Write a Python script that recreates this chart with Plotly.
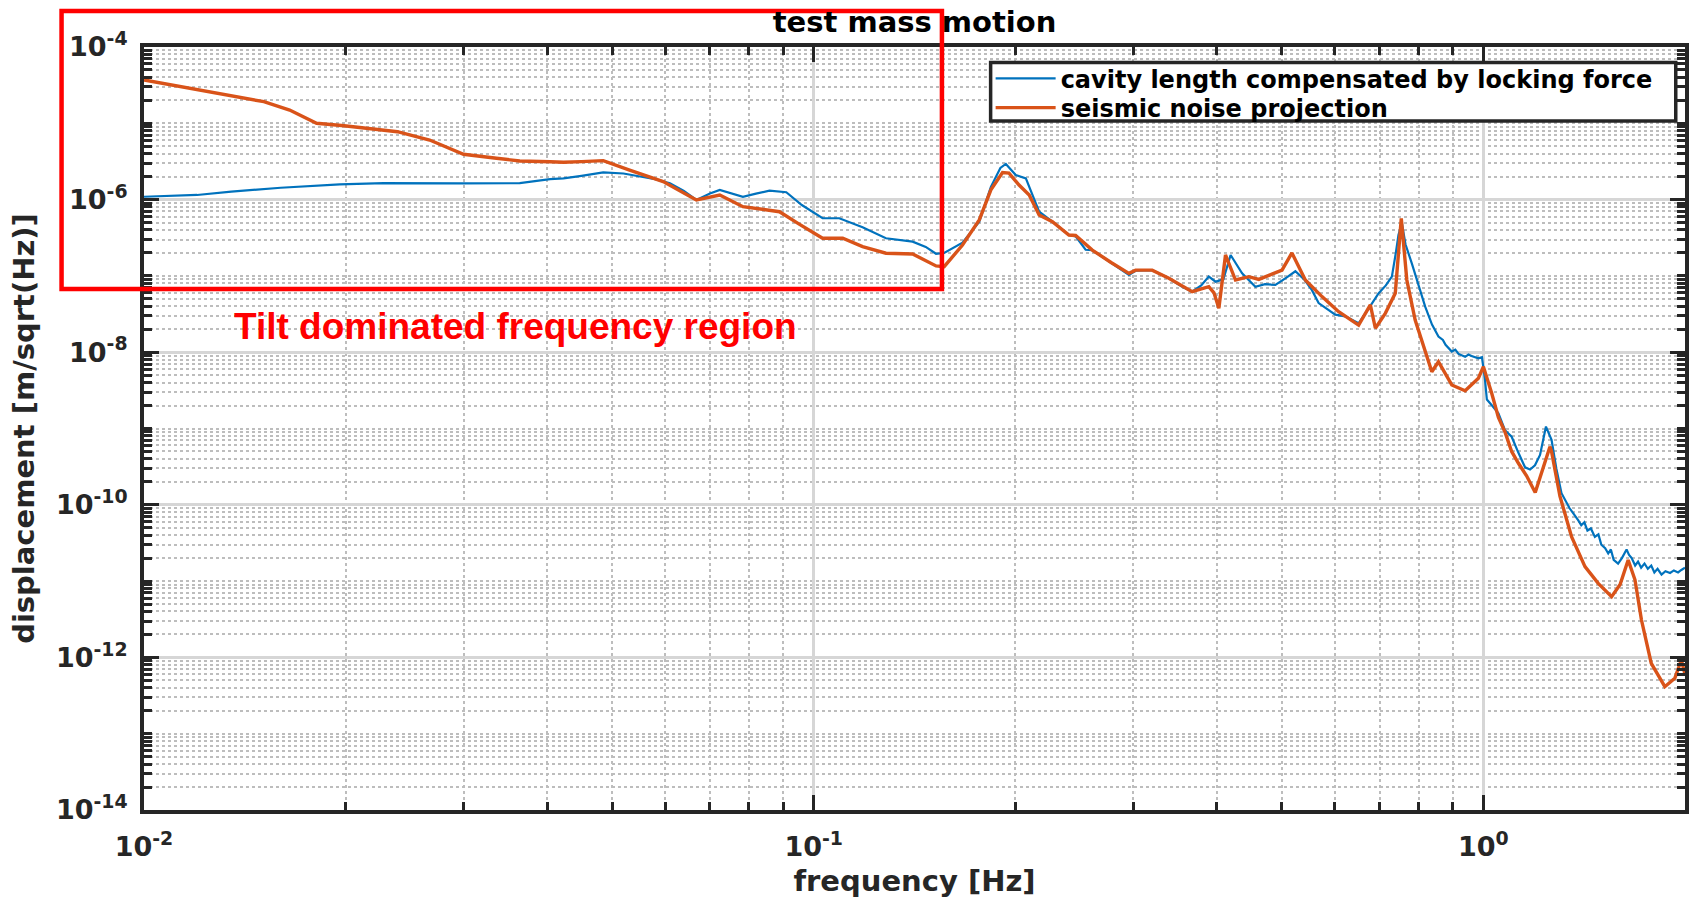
import plotly.graph_objects as go

# Spectra of test mass motion (amplitude spectral densities)
freq_cavity = [
    0.0100, 0.0120, 0.0135, 0.0160, 0.0196, 0.0228, 0.0300, 0.0364, 0.0404, 0.0423,
    0.0450, 0.0485, 0.0520, 0.0544, 0.0580, 0.0610, 0.0640, 0.0668, 0.0700, 0.0724,
    0.0784, 0.0820, 0.0859, 0.0910, 0.0960, 0.1031, 0.1092, 0.1183, 0.1282, 0.1405,
    0.1470, 0.1523, 0.1566, 0.1668, 0.1767, 0.1839, 0.1900, 0.1936, 0.2003, 0.2074,
    0.2120, 0.2171, 0.2272, 0.2405, 0.2461, 0.2547, 0.2606, 0.2780, 0.2956, 0.3025,
    0.3202, 0.3391, 0.3551, 0.3674, 0.3790, 0.3890, 0.3982, 0.4090, 0.4193, 0.4362,
    0.4566, 0.4720, 0.4891, 0.5080, 0.5239, 0.5400, 0.5546, 0.5675, 0.5850, 0.6009,
    0.6220, 0.6512, 0.6750, 0.6972, 0.7150, 0.7300, 0.7400, 0.7467, 0.7556, 0.7650,
    0.7818, 0.8000, 0.8186, 0.8380, 0.8568, 0.8700, 0.8780, 0.8970, 0.9080, 0.9180,
    0.9391, 0.9500, 0.9600, 0.9830, 0.9950, 1.0050, 1.0120, 1.0300, 1.0530, 1.0770,
    1.1020, 1.1280, 1.1540, 1.1740, 1.1940, 1.2150, 1.2400, 1.2640, 1.2850, 1.3080,
    1.3450, 1.3850, 1.4000, 1.4150, 1.4300, 1.4470, 1.4670, 1.4850, 1.5000, 1.5200,
    1.5360, 1.5500, 1.5650, 1.5890, 1.6100, 1.6360, 1.6500, 1.6650, 1.6850, 1.7020,
    1.7200, 1.7400, 1.7600, 1.7810, 1.8000, 1.8200, 1.8450, 1.8700, 1.9000, 1.9250,
    1.9530, 1.9750, 2.0000,
]
disp_cavity = [
    1.09e-6, 1.15e-6, 1.27e-6, 1.43e-6, 1.58e-6, 1.64e-6, 1.63e-6, 1.64e-6, 1.85e-6, 1.90e-6,
    2.05e-6, 2.28e-6, 2.20e-6, 2.06e-6, 1.85e-6, 1.64e-6, 1.30e-6, 9.9e-7, 1.20e-6, 1.34e-6,
    1.09e-6, 1.20e-6, 1.31e-6, 1.25e-6, 8.5e-7, 5.7e-7, 5.7e-7, 4.33e-7, 3.11e-7, 2.81e-7,
    2.4e-7, 1.95e-7, 2.0e-7, 2.72e-7, 5.13e-7, 1.47e-6, 2.6e-6, 2.93e-6, 2.10e-6, 1.90e-6,
    1.2e-6, 6.94e-7, 5.13e-7, 3.43e-7, 3.3e-7, 2.2e-7, 2.18e-7, 1.5e-7, 1.03e-7, 1.17e-7,
    1.19e-7, 9.3e-8, 7.2e-8, 6.2e-8, 7.5e-8, 9.8e-8, 8.4e-8, 9.0e-8, 1.88e-7, 1.08e-7,
    7.2e-8, 7.8e-8, 7.6e-8, 9.5e-8, 1.15e-7, 9.0e-8, 6.5e-8, 4.4e-8, 3.6e-8, 3.1e-8,
    2.95e-8, 2.39e-8, 3.8e-8, 5.9e-8, 7.5e-8, 9.8e-8, 2.0e-7, 3.43e-7, 4.89e-7, 2.6e-7,
    1.46e-7, 7.5e-8, 3.95e-8, 2.3e-8, 1.6e-8, 1.45e-8, 1.25e-8, 1.02e-8, 1.08e-8, 9.5e-9,
    8.7e-9, 9.3e-9, 8.9e-9, 8.3e-9, 8.6e-9, 4.5e-9, 2.4e-9, 2.0e-9, 1.58e-9, 9.5e-10,
    7.8e-10, 4.8e-10, 3.1e-10, 2.9e-10, 3.3e-10, 4.5e-10, 1.06e-9, 7.1e-10, 3.0e-10, 1.42e-10,
    9.0e-11, 6.3e-11, 5.4e-11, 5.9e-11, 4.6e-11, 4.9e-11, 3.8e-11, 4.1e-11, 3.0e-11, 2.7e-11,
    2.3e-11, 2.6e-11, 1.9e-11, 1.7e-11, 2.0e-11, 2.6e-11, 2.2e-11, 2.0e-11, 1.6e-11, 1.8e-11,
    1.5e-11, 1.7e-11, 1.45e-11, 1.6e-11, 1.3e-11, 1.45e-11, 1.22e-11, 1.35e-11, 1.28e-11, 1.38e-11,
    1.3e-11, 1.4e-11, 1.5e-11,
]

freq_seismic = [
    0.0100, 0.0120, 0.0151, 0.0165, 0.0173, 0.0181, 0.0199, 0.0239, 0.0267, 0.0286,
    0.0300, 0.0336, 0.0364, 0.0404, 0.0423, 0.0450, 0.0485, 0.0531, 0.0596, 0.0668,
    0.0724, 0.0784, 0.0889, 0.0950, 0.1031, 0.1105, 0.1183, 0.1282, 0.1405, 0.1523,
    0.1566, 0.1668, 0.1767, 0.1839, 0.1914, 0.1957, 0.2026, 0.2098, 0.2171, 0.2272,
    0.2405, 0.2461, 0.2606, 0.2780, 0.2956, 0.3025, 0.3202, 0.3391, 0.3674, 0.3890,
    0.3960, 0.4027, 0.4120, 0.4264, 0.4464, 0.4620, 0.4891, 0.5004, 0.5177, 0.5421,
    0.5741, 0.6079, 0.6512, 0.6779, 0.6898, 0.7137, 0.7386, 0.7540, 0.7685, 0.7909,
    0.8375, 0.8568, 0.8970, 0.9391, 0.9830, 1.0000, 1.0290, 1.0530, 1.0770, 1.1020,
    1.1280, 1.1600, 1.1950, 1.2570, 1.2640, 1.3010, 1.3540, 1.4180, 1.4840, 1.5540,
    1.6000, 1.6450, 1.6840, 1.7220, 1.7810, 1.8660, 1.9310, 1.9750, 2.0000,
]
disp_seismic = [
    3.69e-5, 2.79e-5, 1.92e-5, 1.49e-5, 1.22e-5, 1.00e-5, 9.3e-6, 7.76e-6, 6.04e-6, 4.70e-6,
    3.93e-6, 3.48e-6, 3.21e-6, 3.14e-6, 3.08e-6, 3.15e-6, 3.24e-6, 2.44e-6, 1.72e-6, 9.9e-7,
    1.15e-6, 8.07e-7, 6.94e-7, 4.8e-7, 3.11e-7, 3.11e-7, 2.42e-7, 1.98e-7, 1.94e-7, 1.35e-7,
    1.32e-7, 2.54e-7, 5.41e-7, 1.34e-6, 2.26e-6, 2.22e-6, 1.55e-6, 1.15e-6, 6.28e-7, 5.13e-7,
    3.43e-7, 3.39e-7, 2.18e-7, 1.5e-7, 1.08e-7, 1.19e-7, 1.19e-7, 9.3e-8, 6.21e-8, 7.22e-8,
    6.0e-8, 3.76e-8, 1.88e-7, 8.83e-8, 9.77e-8, 9.0e-8, 1.10e-7, 1.19e-7, 2.0e-7, 8.83e-8,
    5.35e-8, 3.40e-8, 2.27e-8, 4.16e-8, 2.06e-8, 3.23e-8, 5.91e-8, 5.69e-7, 8.83e-8, 2.64e-8,
    5.55e-9, 7.51e-9, 3.72e-9, 3.13e-9, 4.55e-9, 6.46e-9, 2.89e-9, 1.4e-9, 9.0e-10, 5.0e-10,
    3.5e-10, 2.4e-10, 1.45e-10, 5.78e-10, 5.0e-10, 1.3e-10, 3.82e-11, 1.55e-11, 9.35e-12, 6.25e-12,
    9.0e-12, 1.89e-11, 1.04e-11, 3.09e-12, 8.38e-13, 4.13e-13, 5.32e-13, 9.25e-13, 6.0e-13,
]

series_names = ["cavity length compensated by locking force", "seismic noise projection"]
series_colors = ["#0072BD", "#D95319"]

x_tick_vals = [0.01, 0.1, 1.0]
x_tick_text = ["10<sup>-2</sup>", "10<sup>-1</sup>", "10<sup>0</sup>"]
y_tick_vals = [1e-14, 1e-12, 1e-10, 1e-8, 1e-6, 1e-4]
y_tick_text = ["10<sup>-14</sup>", "10<sup>-12</sup>", "10<sup>-10</sup>",
               "10<sup>-8</sup>", "10<sup>-6</sup>", "10<sup>-4</sup>"]

x_minor_vals = [m * 10.0 ** e for e in (-2, -1, 0) for m in range(2, 10) if m * 10.0 ** e <= 2.0]
y_minor_vals = [m * 10.0 ** e for e in range(-14, -4) for m in range(1, 10)
                if not (m == 1 and e % 2 == 0)]

INK = "#262626"
FONT = "DejaVu Sans"

fig = go.Figure()
fig.add_trace(go.Scatter(x=freq_cavity, y=disp_cavity, mode="lines", name=series_names[0],
                         line=dict(color=series_colors[0], width=2.2), legend="legend"))
fig.add_trace(go.Scatter(x=freq_seismic, y=disp_seismic, mode="lines", name=series_names[1],
                         line=dict(color=series_colors[1], width=3.4), legend="legend2"))

axis_common = dict(
    type="log", automargin=False, showline=True, linecolor=INK, linewidth=4, mirror="allticks",
    ticks="inside", ticklen=15, tickwidth=3, tickcolor=INK,
    showgrid=True, gridcolor="#d6d6d6", gridwidth=2.5, zeroline=False,
    tickfont=dict(family=FONT, size=27, color=INK, weight="bold"),
    tickmode="array",
)

fig.update_xaxes(
    **axis_common,
    range=[-2, 0.30103],
    tickvals=x_tick_vals, ticktext=x_tick_text, ticklabelstandoff=10,
    minor=dict(tickmode="array", tickvals=x_minor_vals, ticks="inside", ticklen=8,
               tickwidth=2.5, tickcolor=INK, showgrid=True, gridcolor="#bdbdbd",
               griddash="dot", gridwidth=1.5),
    title=dict(text="frequency [Hz]", font=dict(family=FONT, size=29, color=INK, weight="bold"),
               standoff=20),
)
fig.update_yaxes(
    **axis_common,
    range=[-14, -4],
    tickvals=y_tick_vals, ticktext=y_tick_text, ticklabelstandoff=7,
    minor=dict(tickmode="array", tickvals=y_minor_vals, ticks="inside", ticklen=8,
               tickwidth=2.5, tickcolor=INK, showgrid=True, gridcolor="#bdbdbd",
               griddash="dot", gridwidth=1.5),
    title=dict(text="displacement [m/sqrt(Hz)]",
               font=dict(family=FONT, size=29, color=INK, weight="bold"), standoff=14),
)

# Legend frame (white box under the two legend rows)
fig.add_shape(type="rect", xref="paper", yref="paper",
              x0=0.5494, x1=0.9940, y0=0.9031, y1=0.9796,
              line=dict(color=INK, width=3.5), fillcolor="white", layer="above")

# Highlight box and label for the low-frequency band
fig.add_shape(type="rect", xref="paper", yref="paper",
              x0=-0.0535, x1=0.5178, y0=0.6828, y1=1.0472,
              line=dict(color="#FF0000", width=4.5), fillcolor="rgba(0,0,0,0)", layer="above")
fig.add_annotation(text="Tilt dominated frequency region", xref="paper", yref="paper",
                   x=0.0571, y=0.6343, xanchor="left", yanchor="middle", showarrow=False,
                   font=dict(family="Liberation Sans", size=37, color="#FF0000", weight="bold"))

legend_style = dict(xanchor="left", yanchor="middle", bgcolor="rgba(0,0,0,0)", borderwidth=0,
                    font=dict(family=FONT, size=24, color="black", weight="bold"),
                    itemwidth=60)

fig.update_layout(
    width=1692, height=898,
    margin=dict(l=144, r=7, t=47, b=88, autoexpand=False),
    paper_bgcolor="white", plot_bgcolor="white",
    title=dict(text="test mass motion", x=0.5, xref="paper", xanchor="center",
               y=1 - 22 / 898, yref="container", yanchor="middle",
               font=dict(family=FONT, size=29, color="black", weight="bold")),
    legend=dict(x=0.5494, y=0.9583, **legend_style),
    legend2=dict(x=0.5494, y=0.9200, **legend_style),
    showlegend=True,
)

fig.write_html("out.html")
